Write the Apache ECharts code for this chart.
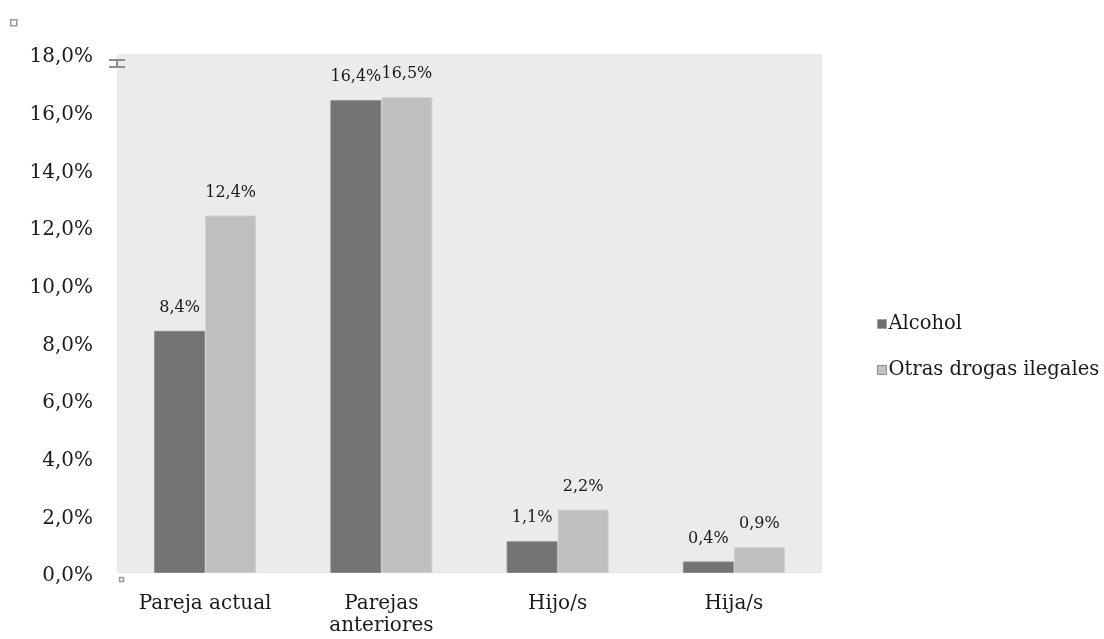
<!DOCTYPE html>
<html>
<head>
<meta charset="utf-8">
<script src="https://cdn.jsdelivr.net/npm/echarts@6/dist/echarts.min.js"></script>
<style>
  html, body { margin: 0; padding: 0; background: #ffffff; }
  #chart { width: 1104px; height: 639px; }
</style>
</head>
<body>
<div id="chart"></div>
<script>
// Categories (relationship with the aggressor) and percentages per substance
const categories = ['Pareja actual', 'Parejas\nanteriores', 'Hijo/s', 'Hija/s'];
const alcohol = [8.4, 16.4, 1.1, 0.4];
const otrasDrogas = [12.4, 16.5, 2.2, 0.9];
const seriesNames = ['Alcohol', 'Otras drogas ilegales'];
const yTicks = { min: 0, max: 18, interval: 2 };

const FONT = 'DejaVu Serif';
const pct = v => Number(v).toFixed(1).replace('.', ',') + '%';

const chart = echarts.init(document.getElementById('chart'), null, { renderer: 'canvas' });

const labelCfg = {
  show: true,
  position: 'top',
  distance: 15,
  color: '#1a1a1a',
  fontFamily: FONT,
  fontSize: 16,
  formatter: p => pct(p.value)
};

chart.setOption({
  animation: false,
  backgroundColor: '#ffffff',
  textStyle: { fontFamily: FONT },
  grid: {
    left: 117, right: 282, top: 54, bottom: 66,
    show: true, backgroundColor: '#ebebeb', borderWidth: 0
  },
  legend: {
    orient: 'vertical',
    left: 872,
    top: 309,
    itemWidth: 9,
    itemHeight: 9,
    itemGap: 26,
    icon: 'rect',
    textStyle: { fontFamily: FONT, fontSize: 19.5, color: '#1a1a1a', padding: [0, 0, 0, -3] },
    data: [
      { name: seriesNames[0], itemStyle: { color: '#6e6e6e', borderColor: '#a0a0a0', borderWidth: 1 } },
      { name: seriesNames[1], itemStyle: { color: '#c4c4c4', borderColor: '#8c8c8c', borderWidth: 1 } }
    ]
  },
  xAxis: {
    type: 'category',
    data: categories,
    axisLine: { show: false },
    axisTick: { show: false },
    axisLabel: {
      fontFamily: FONT, fontSize: 20, color: '#1a1a1a',
      margin: 20, lineHeight: 22, interval: 0
    }
  },
  yAxis: {
    type: 'value',
    min: yTicks.min, max: yTicks.max, interval: yTicks.interval,
    axisLine: { show: false },
    axisTick: { show: false },
    splitLine: { show: false },
    axisLabel: {
      fontFamily: FONT, fontSize: 20, color: '#1a1a1a', margin: 24,
      formatter: v => '{t|' + pct(v) + '}',
      rich: {
        t: { fontFamily: FONT, fontSize: 20, color: '#1a1a1a', padding: [6, 0, 0, 0] }
      }
    }
  },
  series: [
    {
      name: seriesNames[0],
      type: 'bar',
      data: alcohol,
      barWidth: 51,
      barGap: '0%',
      itemStyle: { color: '#737373', borderColor: '#8a8a8a', borderWidth: 1 },
      label: labelCfg
    },
    {
      name: seriesNames[1],
      type: 'bar',
      data: otrasDrogas,
      barWidth: 51,
      barGap: '0%',
      itemStyle: { color: '#bfbfbf', borderColor: '#d0d0d0', borderWidth: 1 },
      label: labelCfg
    }
  ],
  graphic: [
    // small selection handles left by the editor
    { type: 'rect', left: 10, top: 19, shape: { width: 6, height: 6 },
      style: { fill: '#ffffff', stroke: '#9a9a9a', lineWidth: 1.5 } },
    { type: 'rect', left: 109, top: 59, shape: { width: 16, height: 2 },
      style: { fill: '#8e8e8e' } },
    { type: 'rect', left: 109, top: 66, shape: { width: 16, height: 2 },
      style: { fill: '#8e8e8e' } },
    { type: 'rect', left: 116, top: 59, shape: { width: 2, height: 9 },
      style: { fill: '#8e8e8e' } },
    { type: 'rect', left: 117, top: 575, shape: { width: 4, height: 4 },
      style: { fill: 'none', stroke: '#9a9a9a', lineWidth: 1.5 } }
  ]
});
</script>
</body>
</html>
